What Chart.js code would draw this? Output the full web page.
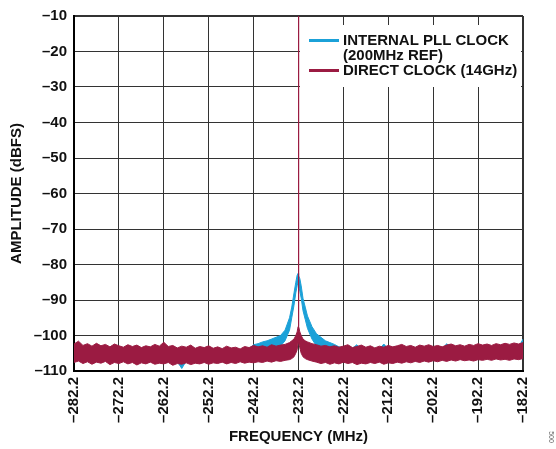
<!DOCTYPE html>
<html>
<head>
<meta charset="utf-8">
<script src="https://cdn.jsdelivr.net/npm/chart.js@4"></script>
<style>
  html, body { margin: 0; padding: 0; background: #fff; }
  #wrap { width: 556px; height: 449px; }
</style>
</head>
<body>
<div id="wrap"><canvas id="spectrum-chart" width="556" height="449"></canvas></div>
<script>
// frequency grid (MHz), denser around the carrier
var freq = [
    -282.2, -281.2, -280.2, -279.2, -278.2, -277.2, -276.2, -275.2, -274.2, -273.2,
    -272.2, -271.2, -270.2, -269.2, -268.2, -267.2, -266.2, -265.2, -264.2, -263.2,
    -262.2, -261.2, -260.2, -259.2, -258.2, -257.2, -256.2, -255.2, -254.2, -253.2,
    -252.2, -251.2, -250.2, -249.2, -248.2, -247.2, -246.2, -245.2, -244.2, -243.2,
    -242.2, -241.2, -240.2, -239.2, -238.2, -237.2, -236.2, -235.2, -234.2,
    -233.7, -233.2, -232.8, -232.5, -232.3, -232.25, -232.2, -232.15, -232.1, -231.9, -231.6, -231.2, -230.7,
    -230.2, -229.2, -228.2, -227.2, -226.2, -225.2, -224.2, -223.2, -222.2, -221.2,
    -220.2, -219.2, -218.2, -217.2, -216.2, -215.2, -214.2, -213.2, -212.2, -211.2,
    -210.2, -209.2, -208.2, -207.2, -206.2, -205.2, -204.2, -203.2, -202.2, -201.2,
    -200.2, -199.2, -198.2, -197.2, -196.2, -195.2, -194.2, -193.2, -192.2, -191.2,
    -190.2, -189.2, -188.2, -187.2, -186.2, -185.2, -184.2, -183.2, -182.2
];

// direct clock (14GHz): top and bottom of the noise trace (dBFS)
var directHigh = [
    -102.4, -101.6, -102.8, -102.3, -103.0, -102.2, -102.9, -102.5, -103.2, -102.4,
    -102.9, -103.3, -102.6, -103.1, -102.7, -103.4, -102.9, -103.2, -102.5, -103.0,
    -101.9, -103.1, -102.8, -103.5, -103.0, -103.3, -102.7, -103.6, -103.1, -103.4,
    -102.9, -103.6, -103.2, -103.7, -103.0, -103.5, -103.3, -103.8, -103.1, -103.4,
    -102.8, -103.2, -102.9, -103.3, -102.6, -103.0, -102.7, -102.5, -102.0,
    -101.5, -101.0, -100.0, -99.0, -97.5, -97.0, -10.0, -97.0, -97.5, -99.0, -100.0, -101.0, -101.5,
    -101.8, -102.3, -102.6, -103.0, -102.8, -103.2, -102.9, -103.3, -103.0, -102.6,
    -103.4, -103.1, -102.7, -103.3, -102.9, -103.5, -103.0, -103.3, -102.8, -103.2,
    -102.9, -102.5, -103.1, -102.8, -103.3, -102.7, -103.0, -102.6, -103.1, -102.8,
    -103.2, -102.7, -102.4, -102.9, -102.6, -103.0, -102.5, -102.8, -102.3, -102.7,
    -102.4, -102.8, -102.3, -102.6, -102.2, -102.5, -102.1, -102.4, -102.0
];
var directLow = [
    -107.6, -107.2, -107.9, -107.4, -108.1, -107.5, -107.8, -107.3, -108.2, -107.6,
    -107.9, -107.4, -108.0, -107.6, -108.3, -107.7, -108.0, -107.5, -108.1, -107.8,
    -108.0, -107.6, -108.4, -107.9, -108.1, -107.7, -108.2, -107.8, -108.0, -107.6,
    -108.1, -107.7, -107.9, -107.5, -108.0, -107.6, -107.9, -107.4, -107.8, -107.5,
    -107.7, -107.4, -107.6, -107.2, -107.5, -107.1, -107.3, -107.0, -106.8,
    -106.5, -106.0, -105.0, -104.0, -102.0, -101.0, -99.0, -101.0, -102.0, -103.5, -105.0, -106.0, -106.5,
    -106.8, -107.2, -107.5, -107.9, -107.6, -108.1, -107.7, -108.0, -107.5, -107.9,
    -107.6, -108.2, -107.8, -108.0, -107.6, -107.9, -107.5, -108.1, -107.7, -107.9,
    -107.5, -107.8, -107.4, -107.7, -107.3, -107.6, -107.2, -107.5, -107.1, -107.4,
    -107.0, -107.3, -106.9, -107.2, -106.8, -107.1, -106.9, -107.2, -106.8, -107.0,
    -106.7, -107.0, -106.6, -106.9, -106.7, -107.0, -106.6, -106.8, -106.5
];

// internal PLL clock (200MHz ref): top and bottom of the trace (dBFS)
var pllHigh = [
    -103.5, -103.2, -103.7, -103.4, -103.8, -103.3, -103.6, -103.4, -103.9, -103.5,
    -103.7, -103.9, -103.5, -103.8, -103.6, -104.0, -103.7, -103.9, -103.4, -103.8,
    -103.2, -103.9, -103.6, -104.1, -103.8, -104.0, -103.6, -104.2, -103.9, -104.1,
    -103.7, -104.2, -103.9, -104.3, -103.8, -104.1, -103.9, -104.3, -103.8, -103.7,
    -102.6, -102.3, -101.8, -101.5, -101.0, -100.5, -100.0, -98.5, -95.0,
    -92.0, -88.0, -85.0, -83.0, -82.5, -82.5, -82.7, -83.0, -83.2, -84.0, -86.0, -89.5, -92.0,
    -94.5, -97.5, -99.5, -100.5, -101.5, -102.0, -102.5, -103.2, -103.5, -103.8,
    -103.6, -102.6, -103.9, -103.7, -104.0, -103.6, -103.9, -102.4, -103.8, -104.0,
    -103.7, -104.1, -103.8, -104.0, -103.6, -103.9, -103.7, -104.0, -103.6, -103.8,
    -103.9, -102.3, -103.7, -103.9, -103.5, -103.8, -103.4, -103.7, -103.3, -103.6,
    -103.4, -103.7, -103.2, -103.5, -103.3, -103.6, -103.1, -103.4, -101.0
];
var pllLow = [
    -107.0, -106.8, -107.2, -106.9, -107.3, -107.0, -107.2, -106.9, -107.4, -107.0,
    -107.3, -106.9, -107.4, -107.1, -107.5, -107.1, -107.4, -107.0, -107.5, -107.2,
    -107.4, -107.1, -107.6, -107.3, -109.3, -107.2, -107.5, -107.2, -107.4, -107.1,
    -107.5, -107.2, -107.3, -107.0, -107.4, -107.1, -107.3, -106.9, -107.2, -107.0,
    -106.5, -106.0, -105.5, -105.0, -104.5, -104.0, -103.0, -101.5, -98.5,
    -95.0, -91.5, -88.0, -86.0, -85.0, -85.0, -85.2, -85.5, -86.0, -87.5, -89.5, -93.0, -95.5,
    -98.0, -101.0, -103.0, -104.5, -105.5, -106.0, -106.5, -107.0, -107.2, -107.4,
    -107.1, -107.5, -107.2, -107.4, -107.1, -107.3, -107.0, -107.4, -107.1, -107.3,
    -107.0, -107.2, -106.9, -107.1, -106.8, -107.0, -106.7, -107.0, -106.6, -106.9,
    -106.6, -106.8, -106.5, -106.7, -106.4, -106.6, -106.5, -106.7, -106.4, -106.6,
    -106.3, -106.5, -106.2, -106.4, -106.3, -106.5, -106.2, -106.4, -106.1
];

var xTickValues = [-282.2, -272.2, -262.2, -252.2, -242.2, -232.2, -222.2, -212.2, -202.2, -192.2, -182.2];

var pllColor = '#1ba1d8';
var directColor = '#9b1b42';
var fontFamily = '"Liberation Sans", Arial, Helvetica, sans-serif';

function points(ys) {
    return freq.map(function (f, i) { return {x: f, y: ys[i]}; });
}

function dash(v) {
    return String(v).replace('-', '\u2013');
}

// legend box + figure number drawn by hand
var legendPlugin = {
    id: 'boxLegend',
    afterDraw: function (chart) {
        var ctx = chart.ctx;
        ctx.save();
        ctx.fillStyle = '#fff';
        ctx.fillRect(300, 25, 221, 62);
        ctx.lineWidth = 3;
        ctx.strokeStyle = pllColor;
        ctx.beginPath(); ctx.moveTo(309, 40.5); ctx.lineTo(339, 40.5); ctx.stroke();
        ctx.strokeStyle = directColor;
        ctx.beginPath(); ctx.moveTo(309, 70.5); ctx.lineTo(339, 70.5); ctx.stroke();
        ctx.fillStyle = '#111';
        ctx.font = 'bold 15px ' + fontFamily;
        ctx.textBaseline = 'middle';
        ctx.textAlign = 'left';
        ctx.fillText('INTERNAL PLL CLOCK', 343, 41);
        ctx.fillText('(200MHz REF)', 343, 56);
        ctx.fillText('DIRECT CLOCK (14GHz)', 343, 71);
        ctx.translate(551, 437);
        ctx.rotate(Math.PI / 2);
        ctx.font = '7px ' + fontFamily;
        ctx.fillStyle = '#666';
        ctx.textAlign = 'center';
        ctx.fillText('500', 0, 0);
        ctx.restore();
    }
};

var spectrumChart = new Chart(document.getElementById('spectrum-chart'), {
    type: 'line',
    data: {
        datasets: [
            {
                label: 'DIRECT CLOCK (14GHz)',
                data: points(directHigh),
                borderColor: directColor,
                borderWidth: 1,
                pointRadius: 0,
                fill: false
            },
            {
                label: 'direct low',
                data: points(directLow),
                borderColor: directColor,
                backgroundColor: directColor,
                borderWidth: 1,
                pointRadius: 0,
                fill: '-1'
            },
            {
                label: 'INTERNAL PLL CLOCK (200MHz REF)',
                data: points(pllHigh),
                borderColor: pllColor,
                borderWidth: 1,
                pointRadius: 0,
                fill: false
            },
            {
                label: 'pll low',
                data: points(pllLow),
                borderColor: pllColor,
                backgroundColor: pllColor,
                borderWidth: 1,
                pointRadius: 0,
                fill: '-1'
            }
        ]
    },
    options: {
        responsive: false,
        animation: false,
        layout: {
            padding: {top: 13, right: 33, bottom: 0, left: 0}
        },
        plugins: {
            legend: {display: false},
            tooltip: {enabled: false}
        },
        scales: {
            x: {
                type: 'linear',
                min: -282.2,
                max: -182.2,
                afterBuildTicks: function (scale) {
                    scale.ticks = xTickValues.map(function (v) { return {value: v}; });
                },
                afterFit: function (scale) { scale.height = 78; },
                ticks: {
                    minRotation: 90,
                    maxRotation: 90,
                    padding: 6,
                    color: '#111',
                    font: {family: fontFamily, size: 15, weight: 'bold'},
                    callback: function (v) { return dash(Number(v).toFixed(1)); }
                },
                grid: {
                    color: '#333',
                    lineWidth: function (c) { return c.tick && c.tick.value === -182.2 ? 2 : 1; },
                    drawTicks: false
                },
                border: {color: '#000', width: 2},
                title: {
                    display: true,
                    text: 'FREQUENCY (MHz)',
                    color: '#111',
                    font: {family: fontFamily, size: 15, weight: 'bold'},
                    padding: {top: 0, bottom: 3}
                }
            },
            y: {
                min: -110,
                max: -10,
                afterFit: function (scale) { scale.width = 74; },
                ticks: {
                    stepSize: 10,
                    padding: 7,
                    color: '#111',
                    font: {family: fontFamily, size: 15, weight: 'bold'},
                    callback: function (v) { return dash(v); }
                },
                grid: {
                    color: '#333',
                    lineWidth: function (c) { return c.tick && c.tick.value === -10 ? 2 : 1; },
                    drawTicks: false
                },
                border: {color: '#000', width: 2},
                title: {
                    display: true,
                    text: 'AMPLITUDE (dBFS)',
                    color: '#111',
                    font: {family: fontFamily, size: 15, weight: 'bold'},
                    padding: {top: 8, bottom: 0}
                }
            }
        }
    },
    plugins: [legendPlugin]
});
</script>
</body>
</html>
